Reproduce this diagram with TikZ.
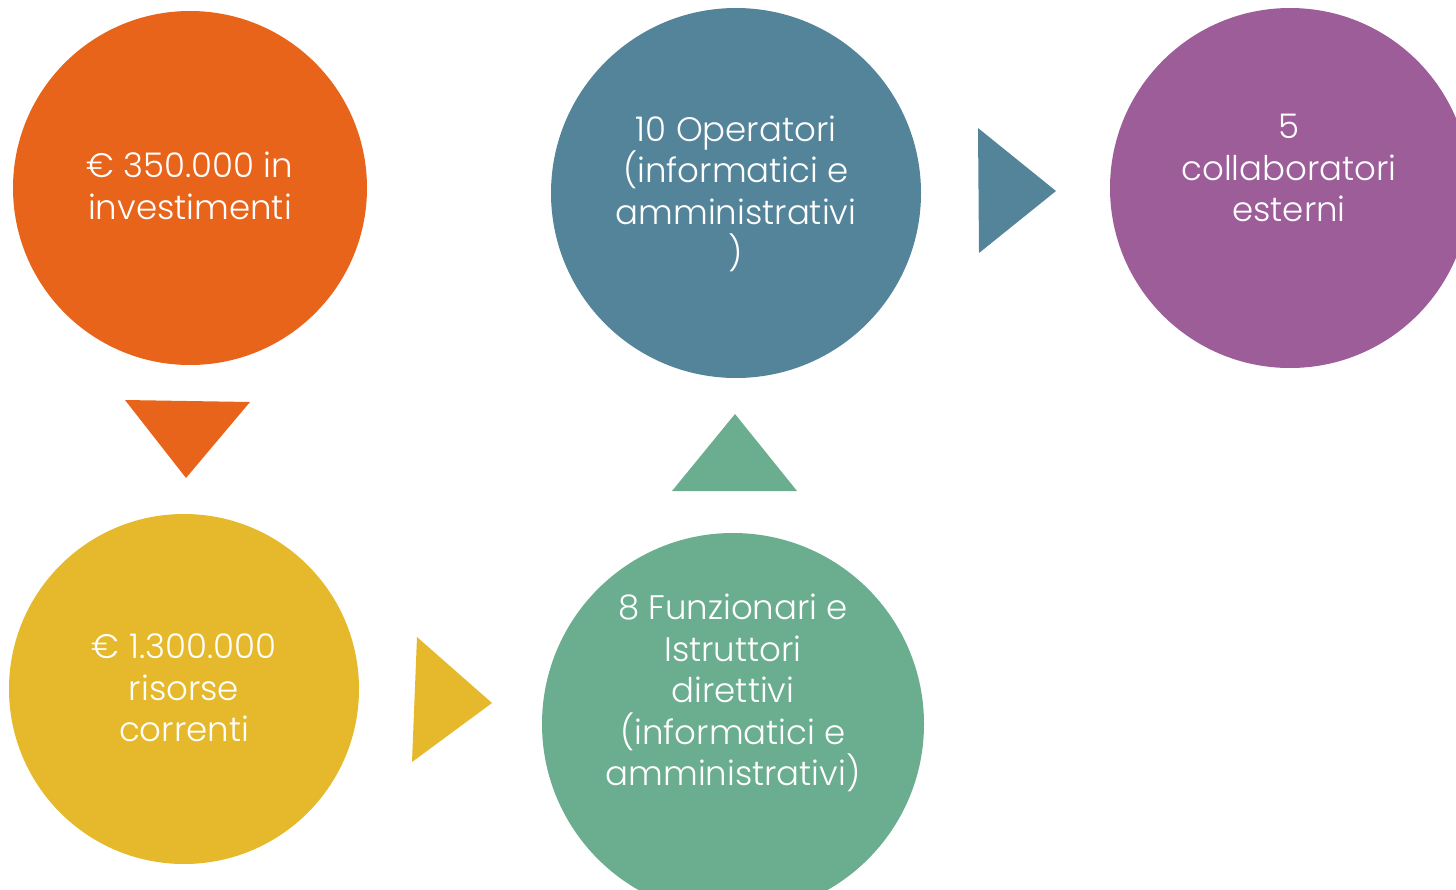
\documentclass[tikz,border=0pt]{standalone}
\usepackage{fontspec}
\setmainfont{Poppins Light}
\begin{document}
\begin{tikzpicture}[x=1pt,y=-1pt,
  disc/.style={circle,minimum size=#1,inner sep=0pt,draw=none},
  label/.style={text=white,align=center,font=\fontsize{34}{41.5}\selectfont,inner sep=0pt},
  pointer/.style={draw=none}]
  \definecolor{cOrange}{HTML}{E8641A}
  \definecolor{cYellow}{HTML}{E5B92B}
  \definecolor{cGreen}{HTML}{6AAD8F}
  \definecolor{cBlue}{HTML}{548499}
  \definecolor{cPurple}{HTML}{9C5D99}
  \useasboundingbox (0,0) rectangle (1456,889);
  \clip (0,0) rectangle (1456,889);

  % circles
  \node[disc=354pt,fill=cOrange] (c1) at (190,188) {};
  \node[disc=350pt,fill=cYellow] (c2) at (184,689) {};
  \node[disc=382pt,fill=cGreen]  (c3) at (733,724) {};
  \node[disc=370pt,fill=cBlue]   (c4) at (736,193) {};
  \node[disc=360pt,fill=cPurple] (c5) at (1290,188) {};

  % labels
  \node[label] (t1) at (190,186) {€ 350.000 in\\investimenti};
  \node[label] (t2) at (184,688) {€ 1.300.000\\risorse\\correnti};
  \node[label] (t3) at (733,693) {8 Funzionari e\\Istruttori\\direttivi\\(informatici e\\amministrativi)};
  \node[label] (t4) at (736,194) {10 Operatori\\(informatici e\\amministrativi\\)};
  \node[label] (t5) at (1289,168) {5\\collaboratori\\esterni};

  % pointers between the steps
  \fill[cOrange] (125,400) -- (250,402) -- (186,478) -- cycle;
  \fill[cYellow] (417,637) -- (492,703) -- (412,762) -- cycle;
  \fill[cGreen]  (672,491) -- (797,491) -- (735,414) -- cycle;
  \fill[cBlue]   (978,128) -- (1056,191) -- (979,253) -- cycle;
\end{tikzpicture}
\end{document}
